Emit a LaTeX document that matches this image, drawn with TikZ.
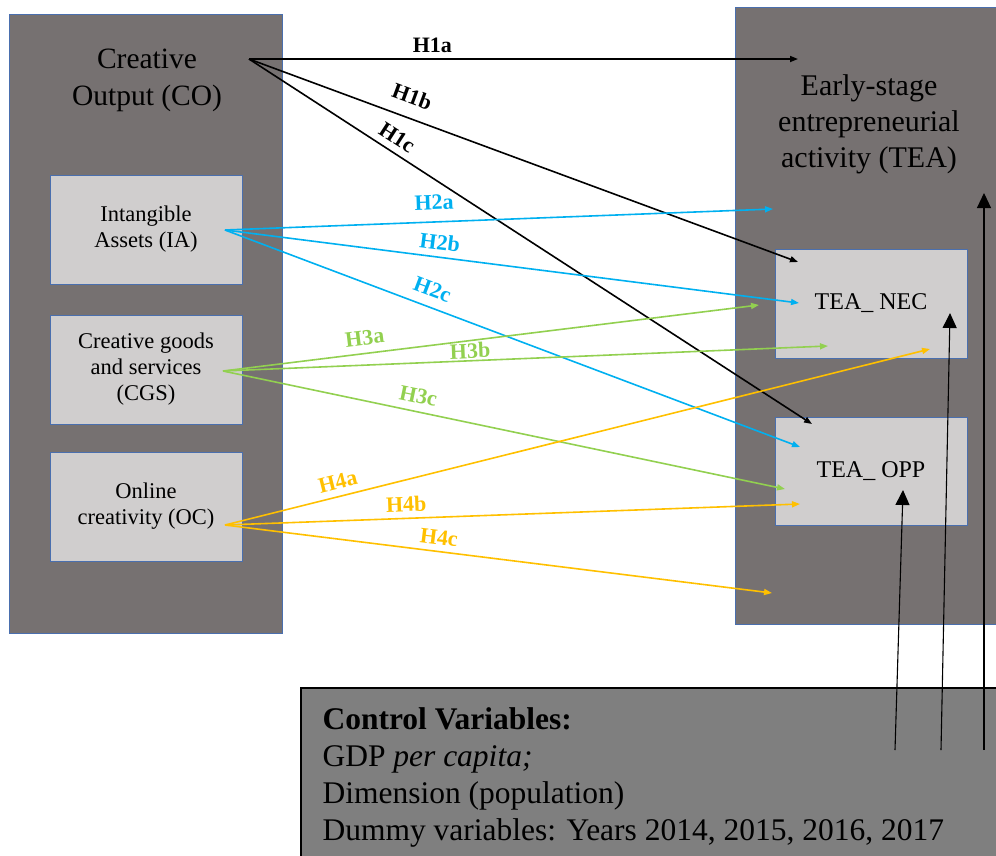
\documentclass[tikz,border=0pt]{standalone}
\usepackage{fontspec}
\setmainfont{Liberation Serif}
\usetikzlibrary{arrows.meta}

\definecolor{boxgray}{HTML}{767171}
\definecolor{innergray}{HTML}{D0CECE}
\definecolor{ctrlgray}{HTML}{7F7F7F}
\definecolor{edgeblue}{HTML}{4A6FAE}
\definecolor{hblue}{HTML}{00B0F0}
\definecolor{hgreen}{HTML}{92D050}
\definecolor{hyellow}{HTML}{FFC000}

\tikzset{
  bigbox/.style={draw=edgeblue, line width=0.8pt, fill=boxgray},
  subbox/.style={draw=edgeblue, line width=0.8pt, fill=innergray, minimum width=192pt, minimum height=109pt, align=center, font=\fontsize{22.5}{26}\selectfont},
  hyp/.style={line width=1.6pt, -{Triangle[length=8pt,width=6pt]}},
  ctrlarrow/.style={line width=1.1pt, -{Triangle[length=15pt,width=14pt]}},
  lab/.style={sloped, above, inner xsep=0pt, inner ysep=#1, font=\fontsize{22}{24}\selectfont\bfseries},
  lab/.default=6pt
}

\begin{document}
\begin{tikzpicture}[x=1pt,y=-1pt]
\clip (0,0) rectangle (996,855);

% the two blocks
\node[bigbox, minimum width=273pt, minimum height=619pt] (co) at (145.5,323.5) {};
\node[bigbox, minimum width=270pt, minimum height=617pt] (tea) at (870,316) {};
\node[align=center, font=\fontsize{29.5}{37}\selectfont] (cotitle) at (147,80) {Creative\\Output (CO)};
\node[align=center, font=\fontsize{30}{36}\selectfont] (teatitle) at (869,124) {Early-stage\\entrepreneurial\\activity (TEA)};

\node[subbox] (ia) at (146,229.5) {Intangible\\Assets (IA)};
\node[subbox] (cgs) at (146,369.5) {Creative goods\\and services\\(CGS)};
\node[subbox] (oc) at (146,506.5) {Online\\creativity (OC)};
\node[subbox, font=\fontsize{24}{28}\selectfont] (nec) at (871,303.5) {TEA\_ NEC};
\node[subbox, minimum height=108pt, font=\fontsize{24}{28}\selectfont] (opp) at (871,471) {TEA\_ OPP};

% control variables
\node[draw=black, line width=1.5pt, fill=ctrlgray, minimum width=709pt, minimum height=182pt] (ctrl) at (655.5,779) {};
\node[anchor=base west, align=left, font=\fontsize{31.5}{37}\selectfont] (ctrltext) at (319,840)
  {\textbf{Control Variables:}\\GDP \textit{per capita;}\\Dimension (population)\\Dummy variables: Years 2014, 2015, 2016, 2017};

% start and end points
\coordinate (s1) at (249,59);
\coordinate (s2) at (225,230);
\coordinate (s3) at (223,371);
\coordinate (s4) at (225,525);
\coordinate (e1a) at (798,59);
\coordinate (e1b) at (798,262);
\coordinate (e1c) at (812,424);
\coordinate (e2a) at (773,209);
\coordinate (e2b) at (799,303);
\coordinate (e2c) at (800,447);
\coordinate (e3a) at (759,305);
\coordinate (e3b) at (828,346);
\coordinate (e3c) at (785,489);
\coordinate (e4a) at (930,349);
\coordinate (e4b) at (800,504);
\coordinate (e4c) at (772,593);

% H1
\draw[hyp, black] (s1) -- (e1a) node[lab=5.5pt, pos=.334]{H1a};
\draw[hyp, black] (s1) -- (e1b) node[lab=12.5pt, pos=.284]{H1b};
\draw[hyp, black] (s1) -- (e1c) node[lab=6.5pt, pos=.249]{H1c};
% H2
\draw[hyp, hblue] (s2) -- (e2a) node[lab=11.5pt, pos=.383]{H2a};
\draw[hyp, hblue] (s2) -- (e2b) node[lab=6.5pt, pos=.371]{H2b};
\draw[hyp, hblue] (s2) -- (e2c) node[lab=9.5pt, pos=.35]{H2c};
% H3
\draw[hyp, hgreen] (s3) -- (e3a) node[lab=7.5pt, pos=.268]{H3a};
\draw[hyp, hgreen] (s3) -- (e3b) node[lab=1.5pt, pos=.409]{H3b};
\draw[hyp, hgreen] (s3) -- (e3c) node[lab=7.5pt, pos=.342]{H3c};
% H4
\draw[hyp, hyellow] (s4) -- (e4a) node[lab=6.5pt, pos=.165]{H4a};
\draw[hyp, hyellow] (s4) -- (e4b) node[lab=5.5pt, pos=.316]{H4b};
\draw[hyp, hyellow] (s4) -- (e4c) node[lab=6pt, pos=.388]{H4c};

% controls
\foreach \n/\bx/\tx/\ty in {1/895/903/490, 2/941/950/313, 3/984/984/193}{
  \coordinate (c\n) at (\bx,750);
  \coordinate (t\n) at (\tx,\ty);
  \draw[ctrlarrow] (c\n) -- (t\n);
}
\end{tikzpicture}
\end{document}
